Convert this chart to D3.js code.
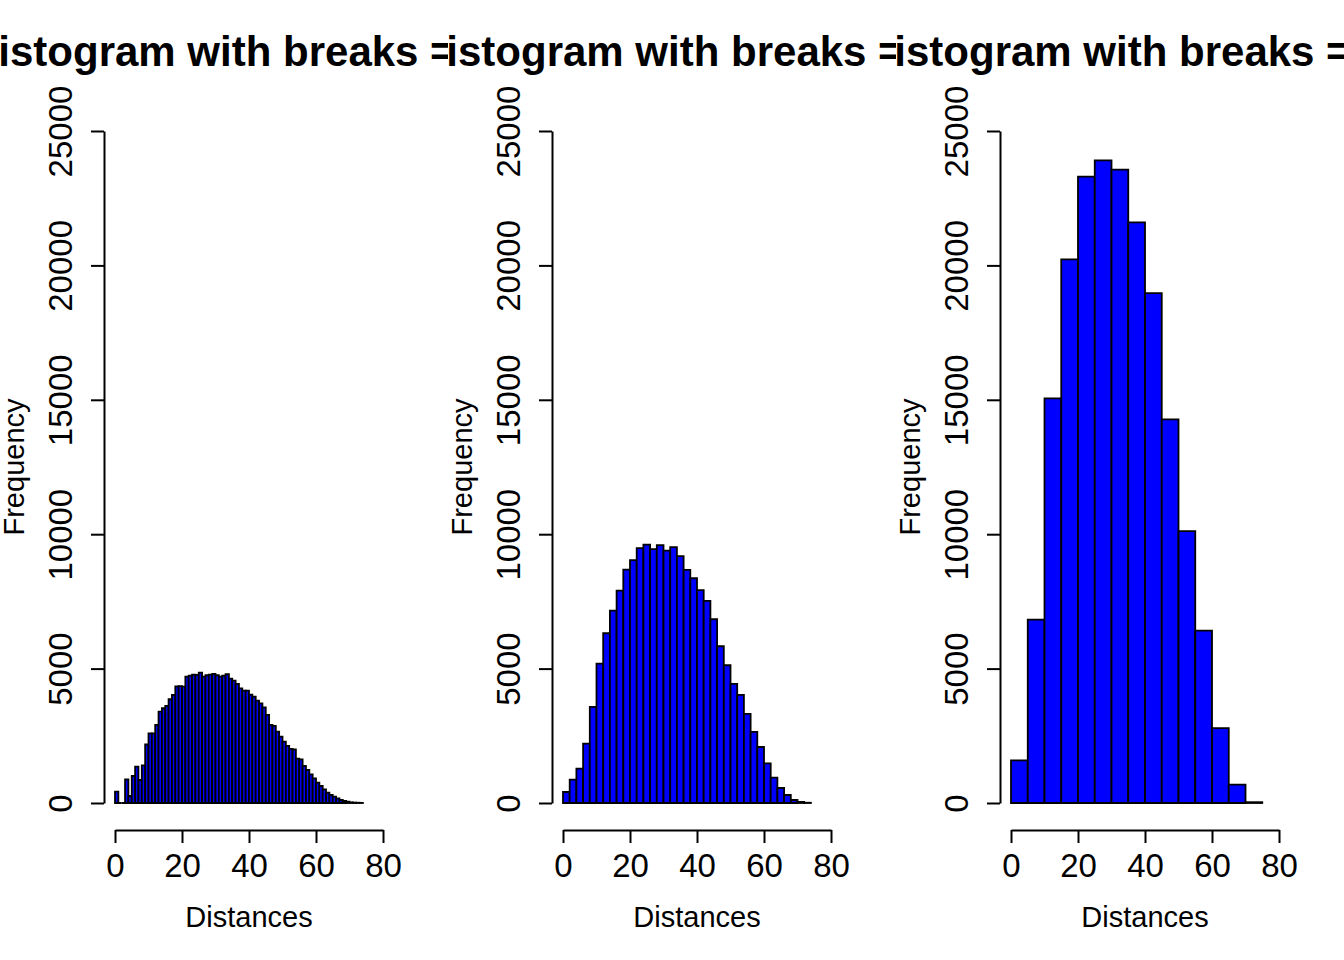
<!DOCTYPE html>
<html>
<head>
<meta charset="utf-8">
<script src="https://cdn.jsdelivr.net/npm/d3@7"></script>
<style>
  body { margin: 0; background: #fff; }
  text { font-family: "Liberation Sans", Arial, Helvetica, sans-serif; }
</style>
</head>
<body>
<script>
// bin counts (bins start at 0)
var counts1 = [422, 0, 0, 881, 260, 1005, 1352, 856, 1402, 2184,
  2593, 2593, 2903, 3400, 3524, 3610, 3859, 4020, 4340, 4345,
  4330, 4700, 4740, 4777, 4764, 4851, 4702, 4752, 4777, 4801,
  4752, 4702, 4740, 4789, 4628, 4553, 4429, 4268, 4181, 4181,
  4032, 3958, 3809, 3710, 3561, 3275, 2903, 2866, 2655, 2469,
  2283, 2122, 2010, 1990, 1650, 1625, 1377, 1228, 1067, 918,
  757, 633, 509, 384, 298, 236, 174, 112, 74, 50,
  25, 14, 10, 5];
var counts2 = [409, 868, 1278, 2208, 3573, 5186, 6315, 7159, 7903, 8685,
  9032, 9479, 9615, 9442, 9591, 9392, 9516, 9181, 8672, 8362,
  7916, 7519, 6836, 5831, 5124, 4429, 4020, 3313, 2643, 2084,
  1476, 943, 558, 298, 112, 40, 10];
var counts3 = [1587, 6824, 15055, 20226, 23303, 23908, 23565, 21601, 18966, 14270,
  10113, 6415, 2782, 687, 30];
var binWidths = [1, 2, 5];
var titles = ["Histogram with breaks = 100", "Histogram with breaks = 50", "Histogram with breaks = 20"];
var xTicks = [0, 20, 40, 60, 80];
var yTicks = [0, 5000, 10000, 15000, 20000, 25000];
var xLabel = "Distances", yLabel = "Frequency";

var width = 1344, height = 960, panelW = 448;
var font = "'Liberation Sans', Arial, Helvetica, sans-serif";

var x = d3.scaleLinear().domain([0, 80]).range([115, 383]);
var y = d3.scaleLinear().domain([0, 25000]).range([803, 131]);

var svg = d3.select("body")
  .append("svg")
  .attr("width", width)
  .attr("height", height);

[counts1, counts2, counts3].forEach((counts, p) => {
  var w = binWidths[p];

  svg.append("clipPath")
    .attr("id", "clip" + p)
    .append("rect")
    .attr("width", panelW)
    .attr("height", height);

  var g = svg.append("g")
    .attr("transform", `translate(${p * panelW},0)`)
    .append("g")
    .attr("clip-path", `url(#clip${p})`);

  // bars as closed paths so empty bins still show a line on the baseline
  g.selectAll("path.bar")
    .data(counts)
    .enter()
    .append("path")
    .attr("class", "bar")
    .attr("d", (d, i) => {
      var x0 = x(i * w), x1 = x((i + 1) * w);
      return `M${x0},${y(0)}V${y(d)}H${x1}V${y(0)}Z`;
    })
    .attr("fill", "#0000ff")
    .attr("stroke", "#000")
    .attr("stroke-width", 1.8);

  var yAxis = g.append("g")
    .attr("transform", "translate(104,0)")
    .call(d3.axisLeft(y).tickValues(yTicks).tickFormat(d3.format("d"))
      .tickSize(13).tickSizeOuter(0));
  yAxis.selectAll(".tick text")
    .attr("x", null)
    .attr("dy", null)
    .attr("text-anchor", "middle")
    .attr("transform", "translate(-32,0) rotate(-90)");

  var xAxis = g.append("g")
    .attr("transform", "translate(0,830)")
    .call(d3.axisBottom(x).tickValues(xTicks).tickFormat(d3.format("d"))
      .tickSize(13).tickSizeOuter(0));
  xAxis.selectAll(".tick text")
    .attr("y", 47)
    .attr("dy", null);

  [yAxis, xAxis].forEach(a => {
    a.attr("font-size", 33).attr("font-family", font);
    a.selectAll(".tick text").attr("fill", "#000");
    a.selectAll("line, path").attr("stroke", "#000").attr("stroke-width", 2);
  });

  g.append("text")
    .text(xLabel)
    .attr("x", 249)
    .attr("y", 927)
    .attr("text-anchor", "middle")
    .attr("font-size", 29);

  g.append("text")
    .text(yLabel)
    .attr("transform", "translate(24,467) rotate(-90)")
    .attr("text-anchor", "middle")
    .attr("font-size", 29);

  g.append("text")
    .text(titles[p])
    .attr("x", -32)
    .attr("y", 66)
    .attr("font-size", 42)
    .attr("font-weight", "bold");
});
</script>
</body>
</html>
